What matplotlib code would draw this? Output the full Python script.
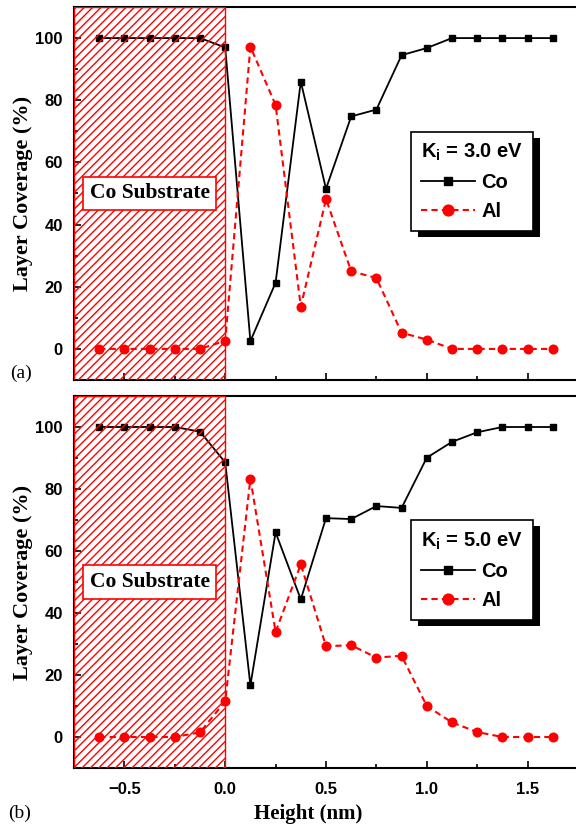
import matplotlib
matplotlib.use('Agg')
import matplotlib.pyplot as plt
from matplotlib.patches import Rectangle
from matplotlib.ticker import MultipleLocator

# ---------------- data ----------------
height = [-0.625, -0.5, -0.375, -0.25, -0.125, 0.0, 0.125, 0.25, 0.375, 0.5,
          0.625, 0.75, 0.875, 1.0, 1.125, 1.25, 1.375, 1.5, 1.625]
co_3ev = [100, 100, 100, 100, 100, 97, 2.5, 21.3, 86, 51.5,
          74.8, 77, 94.5, 96.8, 100, 100, 100, 100, 100]
al_3ev = [0, 0, 0, 0, 0, 2.6, 97.2, 78.5, 13.6, 48.2,
          25, 22.8, 5.2, 3, 0, 0, 0, 0, 0]
co_5ev = [100, 100, 100, 100, 98.5, 88.6, 16.7, 66, 44.4, 70.6,
          70.3, 74.5, 73.9, 90.1, 95.2, 98.3, 100, 100, 100]
al_5ev = [0, 0, 0, 0, 1.5, 11.5, 83.3, 33.9, 55.7, 29.3,
          29.6, 25.6, 26.2, 10, 4.7, 1.6, 0, 0, 0]
series_names = ['Co', 'Al']
ki_labels = ['K$_\\mathregular{i}$ = 3.0 eV', 'K$_\\mathregular{i}$ = 5.0 eV']
panel_labels = ['(a)', '(b)']
substrate_label = 'Co Substrate'
substrate_end = 0.0
x_label = 'Height (nm)'
y_label = 'Layer Coverage (%)'

SANS = 'Liberation Sans'
SERIF = 'Liberation Serif'
plt.rcParams['hatch.color'] = '#ff4040'
plt.rcParams['hatch.linewidth'] = 1.0
plt.rcParams['font.family'] = SANS
plt.rcParams['mathtext.fontset'] = 'custom'
plt.rcParams['mathtext.rm'] = 'Liberation Sans'

W, H = 576, 827
fig = plt.figure(figsize=(W / 100, H / 100), dpi=100)


def rect(l, r, t, b):
    return [l / W, 1 - b / H, (r - l) / W, (b - t) / H]


axes = [fig.add_axes(rect(74, 579, 7, 380)), fig.add_axes(rect(74, 579, 396, 768))]
data = [(co_3ev, al_3ev), (co_5ev, al_5ev)]
legends = []

for i, ax in enumerate(axes):
    co, al = data[i]
    xmin, xmax = -0.75, 1.755
    ax.set_xlim(xmin, xmax)
    ax.set_ylim(-10, 110)
    ax.plot(height, co, '-', color='black', lw=1.3, marker='s', ms=5,
            label=series_names[0], zorder=2)
    ax.plot(height, al, color='#ff0000', lw=1.5, ls=(0, (3, 2)), marker='o', ms=6.2,
            label=series_names[1], zorder=2)
    ax.add_patch(Rectangle((xmin, -10), substrate_end - xmin, 120, facecolor='none',
                           edgecolor='red', hatch='////', lw=1.0, zorder=3))
    ax.text((xmin + substrate_end) / 2, 50, substrate_label, ha='center', va='center',
            fontfamily=SERIF, fontweight='bold', fontsize=15.5, zorder=6,
            bbox=dict(boxstyle='square,pad=0.32', facecolor='white', edgecolor='red', lw=1.2))
    leg = ax.legend(loc='upper left', bbox_to_anchor=(0.667, 0.666), borderaxespad=0,
                    title=ki_labels[i], alignment='left', frameon=True, fancybox=False,
                    edgecolor='black', framealpha=1, handlelength=2.7, handletextpad=0.3,
                    labelspacing=0.5, borderpad=0.5, markerscale=1.25,
                    prop=dict(family=SANS, weight='bold', size=14.5),
                    title_fontproperties=dict(family=SANS, weight='bold', size=14.5))
    leg.get_frame().set_linewidth(1.2)
    legends.append(leg)

    ax.xaxis.set_major_locator(MultipleLocator(0.5))
    ax.xaxis.set_minor_locator(MultipleLocator(0.25))
    ax.yaxis.set_major_locator(MultipleLocator(20))
    ax.yaxis.set_minor_locator(MultipleLocator(10))
    ax.tick_params(which='both', direction='in', top=False, right=False, width=1.2)
    ax.tick_params(which='major', length=5, labelsize=12, pad=8)
    ax.tick_params(which='minor', length=3)
    for lab in ax.get_xticklabels() + ax.get_yticklabels():
        lab.set_fontweight('bold')
        lab.set_fontfamily(SANS)
    for sp in ax.spines.values():
        sp.set_linewidth(1.5)
    ax.set_ylabel(y_label, fontfamily=SERIF, fontweight='bold', fontsize=16)
    ax.yaxis.set_label_coords(-0.1, 0.5)
    ax.yaxis.label.set_va('center')

axes[0].tick_params(labelbottom=False)
axes[1].tick_params(axis='x', which='major', pad=10)
axes[1].set_xlabel(x_label, fontfamily=SERIF, fontweight='bold', fontsize=15)
axes[1].xaxis.set_label_coords((308 - 74) / 505, (768 - 814) / 372)
axes[1].xaxis.label.set_va('center')

fig.text(21 / W, 1 - 373 / H, panel_labels[0], fontfamily=SERIF, fontsize=14,
         ha='center', va='center')
fig.text(20 / W, 1 - 813 / H, panel_labels[1], fontfamily=SERIF, fontsize=14,
         ha='center', va='center')

# legend drop shadows
fig.canvas.draw()
inv = fig.transFigure.inverted()
for ax, leg in zip(axes, legends):
    bb = leg.get_frame().get_window_extent()
    (x0, y0) = inv.transform((bb.x0 + 7, bb.y0 - 6))
    (x1, y1) = inv.transform((bb.x1 + 7, bb.y1 - 6))
    ax.add_patch(Rectangle((x0, y0), x1 - x0, y1 - y0, transform=fig.transFigure,
                           facecolor='black', edgecolor='none', zorder=4.9, clip_on=False))

fig.savefig('out.png', dpi=100)
